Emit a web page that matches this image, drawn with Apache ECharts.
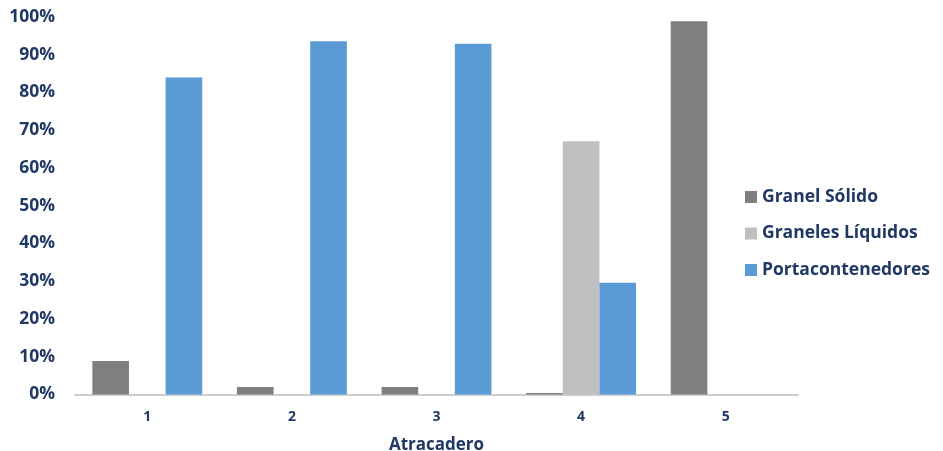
<!DOCTYPE html>
<html><head><meta charset="utf-8">
<script src="https://cdn.jsdelivr.net/npm/echarts@6/dist/echarts.min.js"></script>
<style>html,body{margin:0;padding:0;background:#fff}#c{width:943px;height:451px}</style>
</head><body><div id="c"></div>
<script>
const categories = ['1','2','3','4','5'];
const seriesNames = ['Granel Sólido','Graneles Líquidos','Portacontenedores'];
const granelSolido = [8.9, 2.0, 2.0, 0.4, 98.9];
const granelesLiquidos = [0, 0, 0, 67.1, 0];
const portacontenedores = [84.0, 93.6, 92.9, 29.6, 0];
const colors = ['#7F7F7F','#BFBFBF','#5B9BD5'];
const navy = '#1F3864';
const font = 'Open Sans';

const chart = echarts.init(document.getElementById('c'));
const data = [granelSolido, granelesLiquidos, portacontenedores];
chart.setOption({
  animation:false,
  grid:{left:75,right:145,top:17,bottom:56.5,outerBoundsMode:'none',containLabel:false},
  legend:{orient:'vertical',left:740,top:180,itemWidth:12,itemHeight:12,itemGap:12.5,icon:'rect',
    textStyle:{color:navy,fontFamily:font,fontWeight:'bold',fontSize:17.5,lineHeight:24},data:seriesNames},
  xAxis:{type:'category',data:categories,name:'Atracadero',nameLocation:'middle',nameGap:42,
    nameTextStyle:{color:navy,fontFamily:font,fontWeight:'bold',fontSize:17},
    axisLine:{lineStyle:{color:'#BFBFBF',width:1.5}},axisTick:{show:false},
    axisLabel:{color:navy,fontFamily:font,fontWeight:'bold',fontSize:14,margin:16}},
  yAxis:{type:'value',min:0,max:100,interval:10,
    axisLabel:{formatter:'{value}%',color:navy,fontFamily:font,fontWeight:'bold',fontSize:17.5,margin:20},
    splitLine:{show:false},axisLine:{show:false},axisTick:{show:false}},
  series:data.map((d,i)=>({name:seriesNames[i],type:'bar',data:d,barGap:'0%',barCategoryGap:'24%',
    itemStyle:{color:colors[i]}}))
});
</script></body></html>
